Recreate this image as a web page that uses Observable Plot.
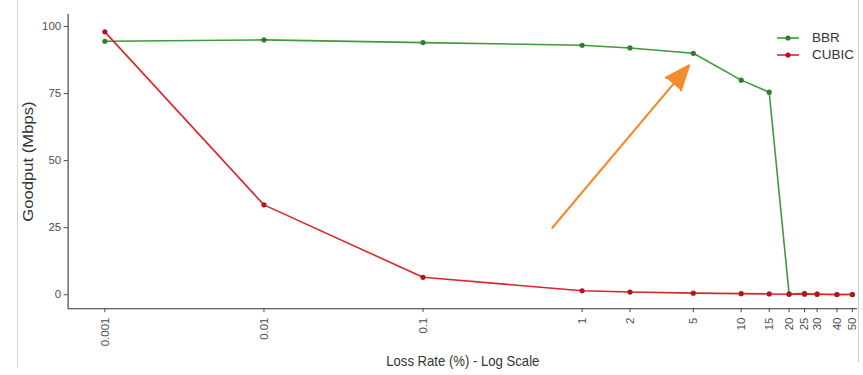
<!DOCTYPE html>
<html>
<head>
<meta charset="utf-8">
<script src="https://cdn.jsdelivr.net/npm/d3@7"></script>
<script src="https://cdn.jsdelivr.net/npm/@observablehq/plot@0.6"></script>
<style>
  html, body { margin: 0; padding: 0; background: #fff; }
  #wrap { position: relative; width: 863px; height: 375px; overflow: hidden; font-family: "Liberation Sans", Arial, sans-serif; }
  #clip { position: absolute; left: 0; top: 0; width: 858px; height: 375px; overflow: hidden; }
  #lborder { position: absolute; left: 17px; top: 0; width: 1px; height: 368px; background: #d4d4d4; }
  #rborder { position: absolute; left: 858px; top: 0; width: 1px; height: 362px; background: #c8ccd4; }
  #legend { position: absolute; left: 776px; top: 29px; font-size: 13.5px; color: #333; }
  .item { display: flex; align-items: center; height: 17px; }
  .item svg { margin-right: 12px; }
</style>
</head>
<body>
<div id="wrap">
  <div id="clip"></div>
  <div id="lborder"></div>
  <div id="rborder"></div>
</div>
<script>
// ---- data ----
const lossRates = [0.001, 0.01, 0.1, 1, 2, 5, 10, 15, 20, 25, 30, 40, 50];
const bbrGoodput = [94.5, 95, 94, 93, 92, 90, 80, 75.5, 0.3, 0.5, 0.2, 0.1, 0.1];
const cubicGoodput = [98, 33.5, 6.5, 1.5, 1, 0.6, 0.4, 0.3, 0.2, 0.2, 0.2, 0.1, 0.1];
const seriesNames = ["BBR", "CUBIC"];
const seriesColors = ["#3d9a3d", "#d8262b"];
const pointColors = ["#2f7d2f", "#b5141b"];
const xTickLabels = ["0.001", "0.01", "0.1", "1", "2", "5", "10", "15", "20", "25", "30", "40", "50"];
const yTicks = [0, 25, 50, 75, 100];
const xTitle = "Loss Rate (%) - Log Scale";
const yTitle = "Goodput (Mbps)";
// annotation arrow (data coordinates: loss rate, goodput)
const arrowFrom = [0.65, 25];
const arrowTo = [4.7, 85.5];

const rows = [];
lossRates.forEach((x, i) => rows.push({series: "BBR", x, y: bbrGoodput[i]}));
lossRates.forEach((x, i) => rows.push({series: "CUBIC", x, y: cubicGoodput[i]}));
const arrowRows = [{x1: arrowFrom[0], y1: arrowFrom[1], x2: arrowTo[0], y2: arrowTo[1]}];
const xTickRows = lossRates.map((x, i) => ({x, label: xTickLabels[i]}));

const chart = Plot.plot({
  width: 863,
  height: 375,
  marginLeft: 68,
  marginRight: 1,
  marginTop: 14,
  marginBottom: 65,
  style: {fontFamily: "Liberation Sans, Arial, sans-serif", background: "transparent"},
  x: {type: "log", domain: [Math.pow(10, -3.231), Math.pow(10, 1.731)]},
  y: {domain: [-5.2, 104.5]},
  color: {domain: seriesNames, range: seriesColors},
  marks: [
    Plot.axisY({ticks: yTicks, tickSize: 4, tickPadding: 3, fontSize: 11.5, color: "#4d4d4d", label: null}),
    Plot.axisX({ticks: lossRates, tickFormat: () => "", tickSize: 4, color: "#4d4d4d", label: null}),
    Plot.text(xTickRows, {x: "x", text: "label", frameAnchor: "bottom", dy: 9, rotate: -90, textAnchor: "end", lineAnchor: "middle", fontSize: 11.5, fill: "#4d4d4d"}),
    Plot.ruleX([Math.pow(10, -3.231)], {stroke: "#333", strokeWidth: 1.1}),
    Plot.ruleY([-5.2], {stroke: "#333", strokeWidth: 1.1}),
    Plot.line(rows, {x: "x", y: "y", z: "series", stroke: "series", strokeWidth: 1.6}),
    Plot.dot(rows, {x: "x", y: "y", fill: (d) => pointColors[seriesNames.indexOf(d.series)], r: 2.6}),
    Plot.arrow(arrowRows, {x1: "x1", y1: "y1", x2: "x2", y2: "y2", stroke: "#f28c2e", fill: "#f28c2e", strokeWidth: 2.2, headLength: 18, headAngle: 44, strokeLinejoin: "miter"}),
    Plot.text([xTitle], {frameAnchor: "bottom", dy: 58, fontSize: 15, fill: "#333"}),
    Plot.text([yTitle], {frameAnchor: "left", dx: -40, rotate: -90, textAnchor: "middle", fontSize: 15, fill: "#333"})
  ]
});

// title proportions (styling only): the reference text is narrow and tall
const svg = d3.select(chart);
svg.selectAll("text").filter(function() { return this.textContent === xTitle; })
  .attr("textLength", 154).attr("lengthAdjust", "spacingAndGlyphs");
svg.selectAll("text").filter(function() { return this.textContent === yTitle; })
  .attr("textLength", 121).attr("lengthAdjust", "spacingAndGlyphs");

document.getElementById("clip").appendChild(chart);

// legend
const legend = document.createElement("div");
legend.id = "legend";
seriesNames.forEach((name, i) => {
  const item = document.createElement("div");
  item.className = "item";
  item.innerHTML = `<svg width="24" height="10"><line x1="1" x2="23" y1="5" y2="5" stroke="${seriesColors[i]}" stroke-width="1.6"/><circle cx="12" cy="5" r="2.6" fill="${pointColors[i]}"/></svg><span>${name}</span>`;
  legend.appendChild(item);
});
document.getElementById("clip").appendChild(legend);
</script>
</body>
</html>
